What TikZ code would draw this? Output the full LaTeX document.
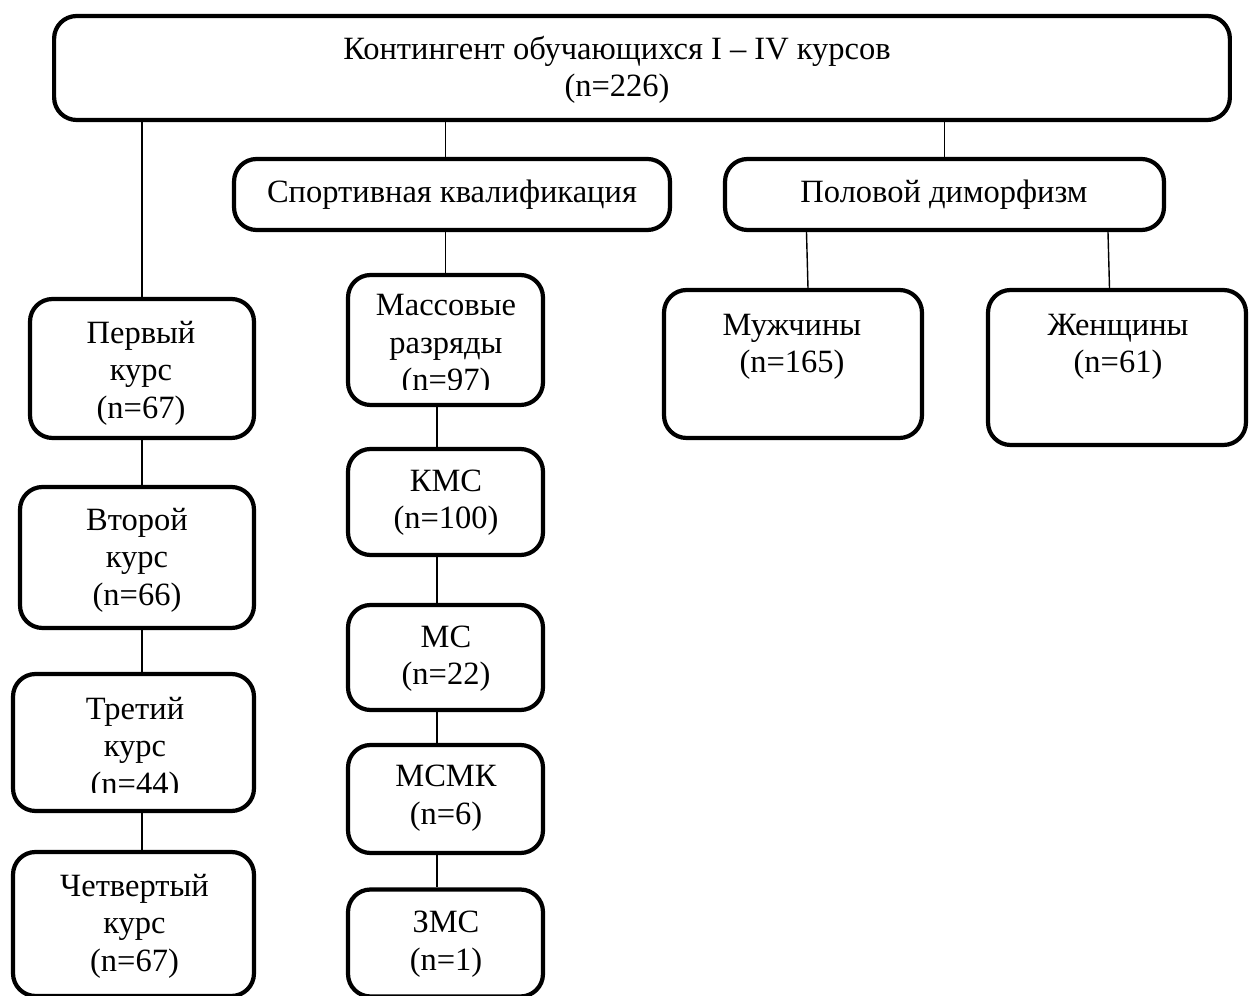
\documentclass[tikz,border=0pt]{standalone}
\usepackage{fontspec}
\setmainfont{Liberation Serif}

\begin{document}
\begin{tikzpicture}[x=0.02cm, y=-0.02cm]
  \tikzset{
    blok/.style={draw, rectangle, rounded corners=0.45cm, line width=2.4pt, inner sep=0pt},
    podpis/.style={align=center, inner sep=0pt, font=\fontsize{18.5}{21.3}\selectfont},
    svyaz/.style={line width=0.8pt}
  }

  % Рамка рисунка
  \useasboundingbox (0,0) rectangle (1249,996);

  % Верхний блок
  \node[blok, rounded corners=0.45cm, minimum width=23.52cm, minimum height=2.08cm] (top) at (642,68) {};
  \node[podpis] (top_t) at (617,70) {Контингент обучающихся I – IV курсов\\(n=226)};

  % Второй уровень
  \node[blok, minimum width=8.72cm, minimum height=1.42cm] (sport) at (452,194.5) {};
  \node[podpis] (sport_t) at (452,195) {Спортивная квалификация};
  \node[blok, minimum width=8.78cm, minimum height=1.42cm] (pol) at (944.5,194.5) {};
  \node[podpis] (pol_t) at (944,195) {Половой диморфизм};

  % Курсы
  \node[blok, minimum width=4.48cm, minimum height=2.78cm] (perv) at (142,368.5) {};
  \node[podpis] (perv_t) at (141,373) {Первый\\курс\\(n=67)};
  \node[blok, minimum width=4.68cm, minimum height=2.82cm] (vtor) at (137,557.5) {};
  \node[podpis] (vtor_t) at (137,560) {Второй\\курс\\(n=66)};
  \node[blok, minimum width=4.82cm, minimum height=2.74cm] (tret) at (133.5,742.5) {};
  \begin{scope}
    \clip (11,672) rectangle (256,793);
    \node[podpis] (tret_t) at (135,749) {Третий\\курс\\(n=44)};
  \end{scope}
  \node[blok, minimum width=4.82cm, minimum height=2.88cm] (chet) at (133.5,924) {};
  \node[podpis] (chet_t) at (134.5,926) {Четвертый\\курс\\(n=67)};

  % Квалификация
  \node[blok, minimum width=3.90cm, minimum height=2.60cm] (mass) at (445.5,340) {};
  \begin{scope}
    \clip (346,273) rectangle (545,390);
    \node[podpis] (mass_t) at (446,346) {Массовые\\разряды\\(n=97)};
  \end{scope}
  \node[blok, minimum width=3.90cm, minimum height=2.12cm] (kms) at (445.5,502) {};
  \node[podpis] (kms_t) at (446,502.5) {КМС\\(n=100)};
  \node[blok, minimum width=3.90cm, minimum height=2.10cm] (ms) at (445.5,657.5) {};
  \node[podpis] (ms_t) at (446,658.5) {МС\\(n=22)};
  \node[blok, minimum width=3.90cm, minimum height=2.16cm] (msmk) at (445.5,799) {};
  \node[podpis] (msmk_t) at (446,798) {МСМК\\(n=6)};
  \node[blok, minimum width=3.90cm, minimum height=2.14cm] (zms) at (445.5,943) {};
  \node[podpis] (zms_t) at (446,944) {ЗМС\\(n=1)};

  % Пол
  \node[blok, minimum width=5.16cm, minimum height=2.96cm] (muzh) at (793,364) {};
  \node[podpis] (muzh_t) at (792,347) {Мужчины\\(n=165)};
  \node[blok, minimum width=5.16cm, minimum height=3.10cm] (zhen) at (1117,367.5) {};
  \node[podpis] (zhen_t) at (1118,347) {Женщины\\(n=61)};

  % Связи от верхнего блока
  \draw[svyaz] (perv.north |- top.south) -- (perv.north);
  \draw[svyaz] (mass.north |- top.south) -- (mass.north |- sport.north);
  \draw[svyaz] (pol.north |- top.south) -- (pol.north);

  % Связи по курсам
  \draw[svyaz] (perv.south) -- (perv.south |- vtor.north);
  \draw[svyaz] (vtor.south -| perv.south) -- (tret.north -| perv.south);
  \draw[svyaz] (tret.south -| perv.south) -- (chet.north -| perv.south);

  % Связи по квалификации
  \draw[svyaz] (mass.north |- sport.south) -- (mass.north);
  \draw[svyaz] ([xshift=-0.17cm]mass.south) -- ([xshift=-0.17cm]kms.north);
  \draw[svyaz] ([xshift=-0.17cm]kms.south) -- ([xshift=-0.17cm]ms.north);
  \draw[svyaz] ([xshift=-0.17cm]ms.south) -- ([xshift=-0.17cm]msmk.north);
  \draw[svyaz] ([xshift=-0.17cm]msmk.south) -- ([xshift=-0.17cm]zms.north);

  % Связи по полу
  \draw[svyaz] ([xshift=0.27cm]muzh.north |- pol.south) -- ([xshift=0.3cm]muzh.north);
  \draw[svyaz] ([xshift=-0.18cm]zhen.north |- pol.south) -- ([xshift=-0.15cm]zhen.north);
\end{tikzpicture}
\end{document}
